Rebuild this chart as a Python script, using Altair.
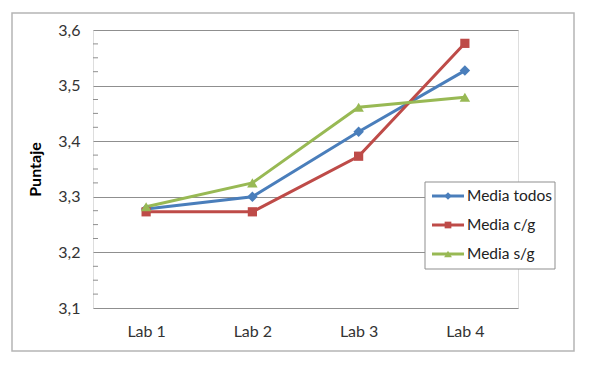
import altair as alt
import pandas as pd

labs = ["Lab 1", "Lab 2", "Lab 3", "Lab 4"]
series = ["Media todos", "Media c/g", "Media s/g"]
media_todos = [3.278, 3.300, 3.417, 3.527]
media_cg = [3.273, 3.273, 3.373, 3.576]
media_sg = [3.282, 3.325, 3.461, 3.479]
y_ticks = [3.1, 3.2, 3.3, 3.4, 3.5, 3.6]
y_minor = [3.125, 3.15, 3.175, 3.225, 3.25, 3.275, 3.325, 3.35, 3.375,
           3.425, 3.45, 3.475, 3.525, 3.55, 3.575]

colors = ["#4A7EBB", "#BE4B48", "#98B954"]
marker_shapes = ["diamond", "square", "triangle-up"]

rows = []
for name, vals in zip(series, [media_todos, media_cg, media_sg]):
    for lab, v in zip(labs, vals):
        rows.append({"lab": lab, "serie": name, "value": v})
df = pd.DataFrame(rows)
legend_df = pd.DataFrame({"serie": series})
minor_df = pd.DataFrame({"value": y_minor})

FONT = "Lato"
GRID = "#8f8f8f"

yscale = alt.Scale(domain=[3.1, 3.6], nice=False, zero=False)
color_scale = alt.Scale(domain=series, range=colors)
color_enc = alt.Color("serie:N", scale=color_scale, legend=None)

x_enc = alt.X("lab:N", sort=labs, scale=alt.Scale(type="point", padding=0.5),
              axis=alt.Axis(title=None, domain=False, ticks=False, labelPadding=15,
                            labelFontSize=16, labelColor="#333333", labelFont=FONT,
                            labelAngle=0))
y_main = alt.Y("value:Q", scale=yscale,
               axis=alt.Axis(values=y_ticks, title="Puntaje", domain=False, ticks=False,
                             labelPadding=13, labelFontSize=16, labelColor="#333333",
                             labelFont=FONT,
                             labelExpr="replace(format(datum.value, '.1f'), '.', ',')",
                             grid=True, gridColor=GRID, gridWidth=1,
                             titleFont=FONT, titleFontSize=16, titleFontWeight="bold",
                             titleColor="#000000", titleAngle=270, titleX=-58, titleY=139,
                             titleAlign="center", titleBaseline="middle"))

base = alt.Chart(df)

layers = []

# outer chart frame
layers.append(alt.Chart(alt.Data(values=[{"a": 1}])).mark_rect(
    fill=None, stroke="#b5b5b5", strokeWidth=1.5, clip=False).encode(
    x=alt.value(-81), x2=alt.value(481), y=alt.value(-17), y2=alt.value(321)))

layers.append(base.mark_line(strokeWidth=3).encode(
    x=x_enc, y=y_main, color=color_enc, detail="serie:N"))

# minor ticks on the value axis (pointing inwards)
layers.append(alt.Chart(minor_df).mark_rule(color=GRID, strokeWidth=1).encode(
    x=alt.value(0), x2=alt.value(5), y=y_main))

for name, shp, sz in zip(series, marker_shapes, [110, 85, 110]):
    layers.append(
        base.transform_filter(alt.datum.serie == name).mark_point(
            filled=True, opacity=1, shape=shp, size=sz).encode(
            x=x_enc, y=y_main, color=color_enc))

# legend box
LX, LY, LW, LH = 332, 152, 130, 87
layers.append(alt.Chart(alt.Data(values=[{"a": 1}])).mark_rect(
    fill="#ffffff", stroke=GRID, strokeWidth=1, clip=False).encode(
    x=alt.value(LX), x2=alt.value(LX + LW), y=alt.value(LY), y2=alt.value(LY + LH)))

legend_base = alt.Chart(legend_df)
for i, (name, shp, sz) in enumerate(zip(series, marker_shapes, [55, 45, 60])):
    ry = LY + 14 + 29 * i
    sub = legend_base.transform_filter(alt.datum.serie == name)
    layers.append(sub.mark_rule(strokeWidth=3).encode(
        x=alt.value(LX + 7), x2=alt.value(LX + 39), y=alt.value(ry), color=color_enc))
    layers.append(sub.mark_point(filled=True, opacity=1, shape=shp, size=sz).encode(
        x=alt.value(LX + 23), y=alt.value(ry), color=color_enc))
    layers.append(sub.mark_text(align="left", baseline="middle", font=FONT,
                                fontSize=15.5, color="#222222").encode(
        x=alt.value(LX + 42), y=alt.value(ry), text="serie:N"))

chart = alt.layer(*layers).properties(
    width=425, height=278,
    padding={"left": 85, "top": 22, "right": 64, "bottom": 53},
    autosize=alt.AutoSizeParams(type="none"),
    background="#ffffff",
).configure_view(stroke=GRID, strokeWidth=1).configure(font=FONT)

chart.save("out.html", embed_options={"renderer": "svg", "actions": False})
